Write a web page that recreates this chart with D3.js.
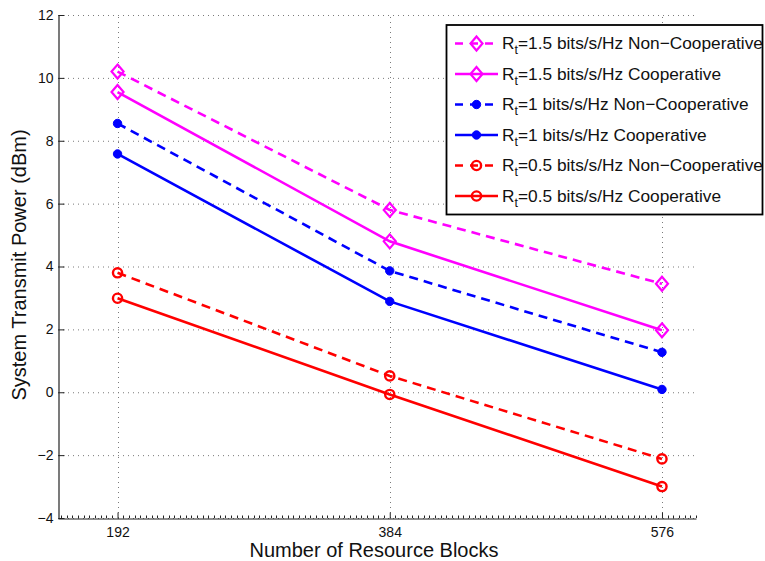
<!DOCTYPE html>
<html>
<head>
<meta charset="utf-8">
<script src="https://cdn.jsdelivr.net/npm/d3@7"></script>
<style>
  html, body { margin: 0; padding: 0; background: #fff; }
  svg { display: block; font-family: "Liberation Sans", Arial, Helvetica, sans-serif; }
</style>
</head>
<body>
<svg id="chart" width="765" height="561"></svg>
<script>
// ---- data ----
const blocks = [192, 384, 576];
const nonCoop15 = [10.2, 5.8, 3.45];
const coop15 = [9.55, 4.8, 1.97];
const nonCoop10 = [8.55, 3.86, 1.27];
const coop10 = [7.58, 2.89, 0.09];
const nonCoop05 = [3.8, 0.52, -2.12];
const coop05 = [2.99, -0.07, -3.0];
const yTicks = [-4, -2, 0, 2, 4, 6, 8, 10, 12];
const xTicks = [192, 384, 576];
const legendLabels = [
  "=1.5 bits/s/Hz Non\u2212Cooperative",
  "=1.5 bits/s/Hz Cooperative",
  "=1 bits/s/Hz Non\u2212Cooperative",
  "=1 bits/s/Hz Cooperative",
  "=0.5 bits/s/Hz Non\u2212Cooperative",
  "=0.5 bits/s/Hz Cooperative"
];
const xLabel = "Number of Resource Blocks";
const yLabel = "System Transmit Power (dBm)";

const series = [
  { values: nonCoop15, color: "#ff00ff", dashed: true,  marker: "diamond" },
  { values: coop15,    color: "#ff00ff", dashed: false, marker: "diamond" },
  { values: nonCoop10, color: "#0000ff", dashed: true,  marker: "dot" },
  { values: coop10,    color: "#0000ff", dashed: false, marker: "dot" },
  { values: nonCoop05, color: "#ff0000", dashed: true,  marker: "circle" },
  { values: coop05,    color: "#ff0000", dashed: false, marker: "circle" }
];

// ---- layout ----
const svg = d3.select("#chart");
const L = 58, R = 696, T = 15, B = 518;
const x = d3.scaleLinear().domain([150, 600]).range([L, R]);
const y = d3.scaleLinear().domain([-4, 12]).range([B, T]);

// grid
const grid = svg.append("g").attr("stroke", "#7a7a7a").attr("stroke-width", 1)
  .attr("stroke-dasharray", "1,4").attr("fill", "none");
grid.selectAll("line.h").data(yTicks).join("line").attr("class", "h")
  .attr("x1", L).attr("x2", R).attr("y1", d => y(d) + 0.5).attr("y2", d => y(d) + 0.5);
grid.selectAll("line.v").data(xTicks).join("line").attr("class", "v")
  .attr("x1", d => Math.round(x(d)) + 0.5).attr("x2", d => Math.round(x(d)) + 0.5)
  .attr("y1", B).attr("y2", T);

// minor x ticks
const minor = d3.range(152, 601, 4).filter(v => !xTicks.includes(v));
svg.append("g").attr("stroke", "#222").attr("stroke-width", 1)
  .selectAll("line").data(minor).join("line")
  .attr("x1", d => Math.round(x(d)) + 0.5).attr("x2", d => Math.round(x(d)) + 0.5)
  .attr("y1", B).attr("y2", B - 2.5);

// axes
const xAxis = svg.append("g").attr("transform", `translate(0,${B + 0.5})`)
  .call(d3.axisBottom(x).tickValues(xTicks).tickFormat(d3.format("d"))
    .tickSizeInner(-6).tickSizeOuter(0).tickPadding(9));
const yAxis = svg.append("g").attr("transform", `translate(${L + 0.5},0)`)
  .call(d3.axisLeft(y).tickValues(yTicks).tickFormat(d3.format("d"))
    .tickSizeInner(-6).tickSizeOuter(0).tickPadding(5));
[xAxis, yAxis].forEach(a => {
  a.selectAll("path.domain").attr("stroke", "#222").attr("stroke-width", 1.2);
  a.selectAll(".tick line").attr("stroke", "#222");
  a.selectAll("text").attr("font-size", 14).attr("fill", "#111")
    .attr("font-family", "Liberation Sans, Arial, sans-serif");
});

// axis titles
svg.append("text").attr("x", (L + R) / 2 - 3).attr("y", 557)
  .attr("text-anchor", "middle").attr("font-size", 20).attr("fill", "#111").text(xLabel);
svg.append("text").attr("transform", `translate(26,${265}) rotate(-90)`)
  .attr("text-anchor", "middle").attr("font-size", 20).attr("fill", "#111").text(yLabel);

// markers
function drawMarker(g, kind, color, cx, cy) {
  if (kind === "diamond") {
    g.append("path")
      .attr("d", `M${cx},${cy - 7}L${cx + 6},${cy}L${cx},${cy + 7}L${cx - 6},${cy}Z`)
      .attr("fill", "none").attr("stroke", color).attr("stroke-width", 2.2);
  } else if (kind === "dot") {
    g.append("circle").attr("cx", cx).attr("cy", cy).attr("r", 4.2)
      .attr("fill", color).attr("stroke", color).attr("stroke-width", 1);
  } else {
    g.append("circle").attr("cx", cx).attr("cy", cy).attr("r", 4.6)
      .attr("fill", "none").attr("stroke", color).attr("stroke-width", 2.4);
  }
}

const line = d3.line().x(d => x(d.b)).y(d => y(d.v));
series.forEach(s => {
  const pts = s.values.map((v, i) => ({ b: blocks[i], v }));
  svg.append("path").datum(pts).attr("d", line)
    .attr("fill", "none").attr("stroke", s.color).attr("stroke-width", 2.6)
    .attr("stroke-dasharray", s.dashed ? "9,6" : null);
  const g = svg.append("g");
  pts.forEach(p => drawMarker(g, s.marker, s.color, x(p.b), y(p.v)));
});

// legend
const lg = svg.append("g");
lg.append("rect").attr("x", 446.5).attr("y", 25).attr("width", 316).attr("height", 189.5)
  .attr("fill", "#fff").attr("stroke", "#000").attr("stroke-width", 1.8);
series.forEach((s, i) => {
  const cy = 43.5 + i * 30.5;
  lg.append("line").attr("x1", 455).attr("x2", 498).attr("y1", cy).attr("y2", cy)
    .attr("stroke", s.color).attr("stroke-width", 2.6)
    .attr("stroke-dasharray", s.dashed ? "8,7" : null);
  drawMarker(lg, s.marker, s.color, 476.5, cy);
  const t = lg.append("text").attr("x", 502).attr("y", cy + 5.5)
    .attr("font-size", 17.3).attr("fill", "#111");
  t.append("tspan").text("R");
  t.append("tspan").attr("font-size", 12.5).attr("dy", 5).text("t");
  t.append("tspan").attr("dy", -5).text(legendLabels[i]);
});
</script>
</body>
</html>
